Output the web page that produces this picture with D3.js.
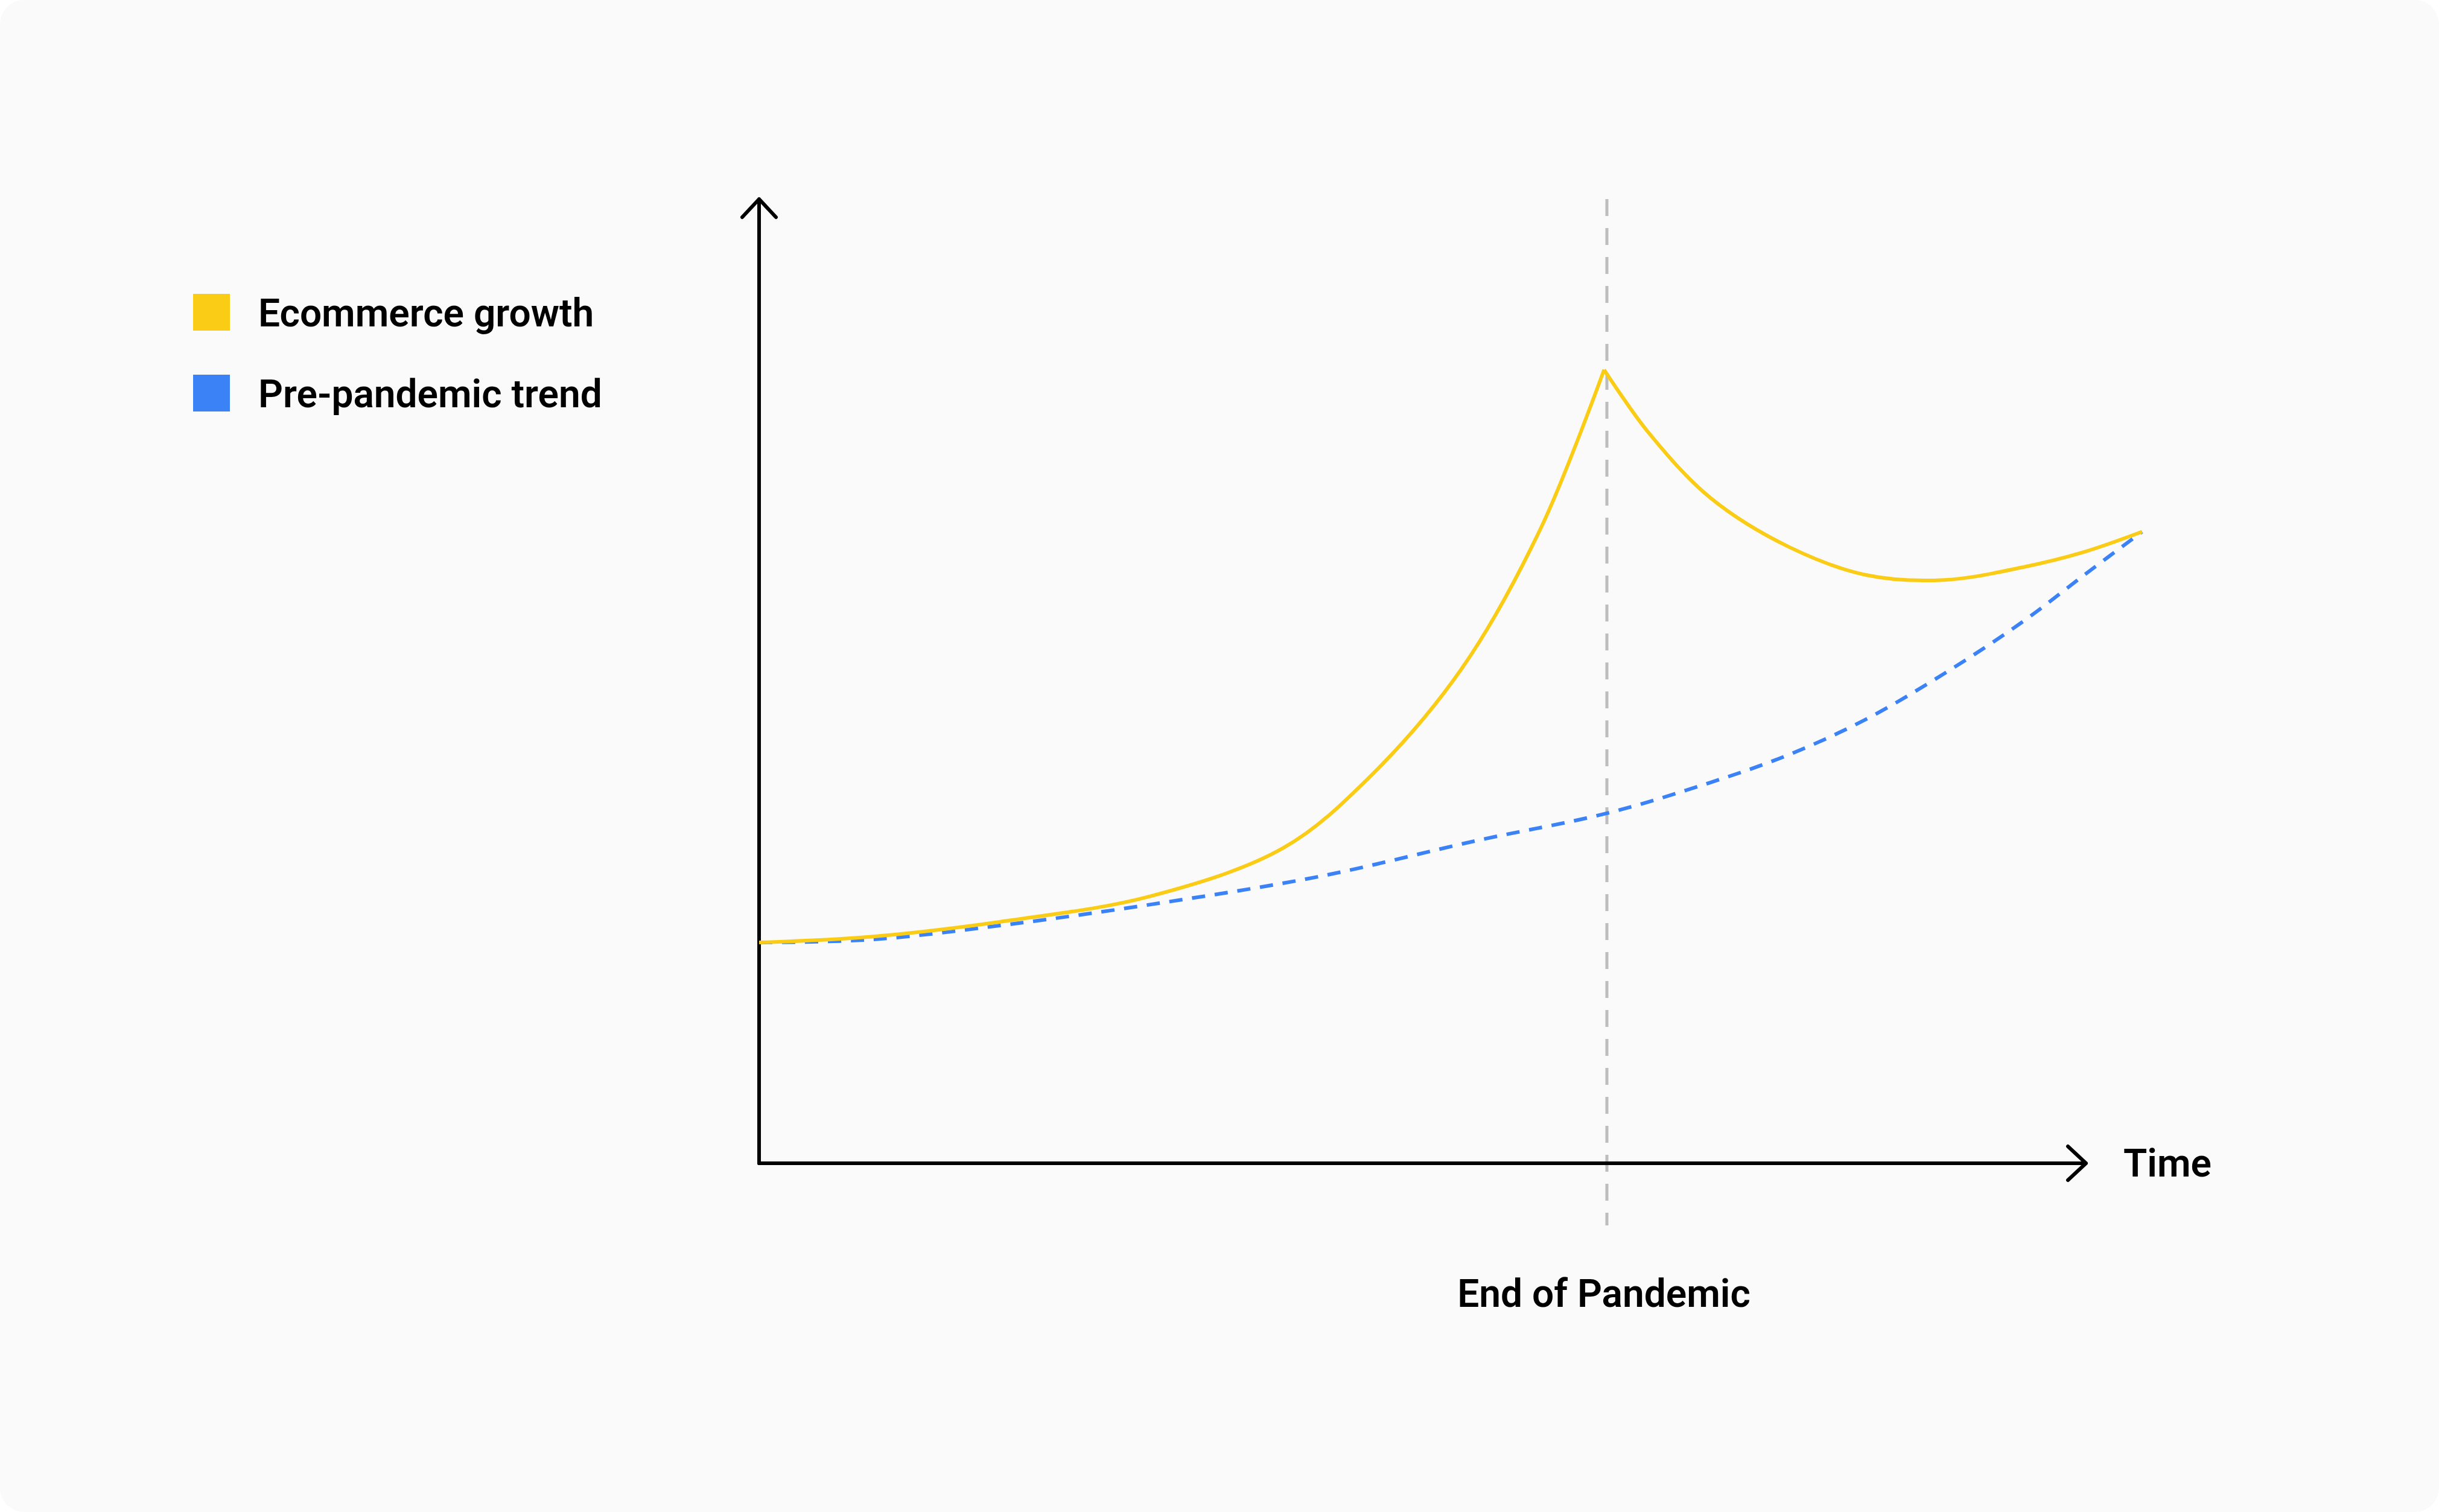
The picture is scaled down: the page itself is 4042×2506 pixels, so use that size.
<!DOCTYPE html>
<html><head><meta charset="utf-8">
<script src="https://cdn.jsdelivr.net/npm/d3@7"></script>
<style>html,body{margin:0;padding:0;background:#fff}</style>
</head><body>
<script>
const seriesNames = ["Ecommerce growth", "Pre-pandemic trend"];
const seriesColors = ["#FACC15", "#3B82F6"];
const growthRiseX = [0, 8.1, 18.2, 28.3, 37.9, 44.1, 50.8, 56.5, 61.1];
const growthRiseY = [22.9, 23.5, 25.2, 27.7, 32.7, 40.0, 51.3, 65.8, 82.3];
const growthFallX = [61.1, 64.3, 68.8, 74.5, 80.1, 85.7, 91.3, 95.8, 100];
const growthFallY = [82.3, 75.8, 69.0, 63.9, 61.0, 60.5, 61.8, 63.4, 65.5];
const trendX = [0, 8.1, 18.2, 29.5, 40.7, 52.0, 61.3, 68.8, 74.5, 80.1, 85.7, 91.3, 95.8, 100];
const trendY = [22.9, 23.2, 24.8, 27.1, 29.8, 33.5, 36.3, 39.5, 42.4, 46.1, 50.8, 56.1, 61.0, 65.5];
const pandemicEnd = 61.3;
const xLabel = "Time";
const markerLabel = "End of Pandemic";

const W = 4042, H = 2506;
const svg = d3.select("body").append("svg").attr("width", W).attr("height", H);
svg.append("rect").attr("width", W).attr("height", H).attr("rx", 40).attr("fill", "#fafafa");

const x = d3.scaleLinear().domain([0, 100]).range([1258, 3550]);
const y = d3.scaleLinear().domain([0, 100]).range([1928, 330]);
const ax0 = 1258, ay0 = 1928, axTop = 330, axRight = 3457;
const font = "Roboto, 'Open Sans', sans-serif";

// pandemic marker
svg.append("line").attr("x1", x(pandemicEnd)).attr("x2", x(pandemicEnd))
  .attr("y1", 330).attr("y2", 2031).attr("stroke", "#bdbdbd").attr("stroke-width", 5)
  .attr("stroke-dasharray", "28,20");

// axes
const ax = svg.append("g").attr("stroke", "#000").attr("stroke-width", 6).attr("fill", "none")
  .attr("stroke-linecap", "round").attr("stroke-linejoin", "round");
ax.append("path").attr("d", `M${ax0},${ay0}V${axTop}M${ax0-28},${axTop+30}L${ax0},${axTop}L${ax0+28},${axTop+30}`);
ax.append("path").attr("d", `M${ax0},${ay0}H${axRight}M${axRight-30},${ay0-28}L${axRight},${ay0}L${axRight-30},${ay0+28}`);

const line = d3.line().x(d => x(d[0])).y(d => y(d[1])).curve(d3.curveCatmullRom.alpha(0.5));
svg.append("path").datum(trendX.map((v, i) => [v, trendY[i]])).attr("d", line)
  .attr("fill", "none").attr("stroke", seriesColors[1]).attr("stroke-width", 6).attr("stroke-dasharray", "22,16");
[[growthRiseX, growthRiseY], [growthFallX, growthFallY]].forEach(([xs, ys]) => {
  svg.append("path").datum(xs.map((v, i) => [v, ys[i]])).attr("d", line)
    .attr("fill", "none").attr("stroke", seriesColors[0]).attr("stroke-width", 6).attr("stroke-linejoin", "round");
});

// labels
svg.append("text").attr("x", 3519).attr("y", 1950).text(xLabel)
  .attr("font-family", font).attr("font-weight", 600).attr("font-size", 64).attr("fill", "#000");
svg.append("text").attr("x", 2658).attr("y", 2166).attr("text-anchor", "middle").text(markerLabel)
  .attr("font-family", font).attr("font-weight", 600).attr("font-size", 64).attr("fill", "#000");

// legend
seriesNames.forEach((n, i) => {
  const yy = 487 + i * 134;
  svg.append("rect").attr("x", 320).attr("y", yy).attr("width", 61).attr("height", 61).attr("fill", seriesColors[i]);
  svg.append("text").attr("x", 428).attr("y", yy + 54).text(n)
    .attr("font-family", font).attr("font-weight", 600).attr("font-size", 64).attr("fill", "#000");
});
</script>
</body></html>
